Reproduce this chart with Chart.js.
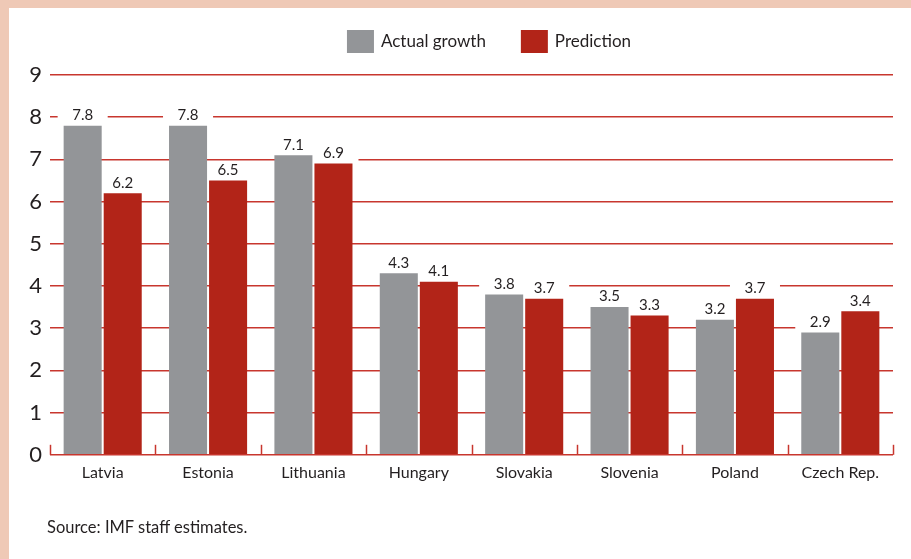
<!DOCTYPE html>
<html>
<head>
<meta charset="utf-8">
<script src="https://cdn.jsdelivr.net/npm/chart.js@4.4.0/dist/chart.umd.min.js"></script>
<style>
  html, body { margin: 0; padding: 0; background: #efc9b6; }
  #frame { position: absolute; left: 9px; top: 8px; width: 902px; height: 551px; background: #fff; }
  #growthChart { position: absolute; left: 0; top: 0; }
  #source { position: absolute; left: 47px; top: 517px; font-family: Lato, "Open Sans", sans-serif; font-size: 16.5px; color: #231f20; }
</style>
</head>
<body>
<div id="frame"></div>
<canvas id="growthChart" width="911" height="559"></canvas>
<div id="source">Source: IMF staff estimates.</div>
<script>
var countries = ['Latvia', 'Estonia', 'Lithuania', 'Hungary', 'Slovakia', 'Slovenia', 'Poland', 'Czech Rep.'];
var actualGrowth = [7.8, 7.8, 7.1, 4.3, 3.8, 3.5, 3.2, 2.9];
var prediction = [6.2, 6.5, 6.9, 4.1, 3.7, 3.3, 3.7, 3.4];
var yTicks = [0, 1, 2, 3, 4, 5, 6, 7, 8, 9];

var gris = '#939598';
var rojo = '#b22418';
var lineaRoja = '#c8362e';
var texto = '#231f20';
var fuente = 'Lato, "Open Sans", sans-serif';

// legend drawn by hand: boxes and names centred over the plot
let leyenda = {
    id: 'leyenda',
    afterDraw(chart) {
        let ctx = chart.ctx;
        ctx.save();
        ctx.font = '17px ' + fuente;
        ctx.textBaseline = 'middle';
        let items = chart.data.datasets.map(function (ds) {
            return { texto: ds.label, color: ds.backgroundColor, ancho: 27 + 7 + ctx.measureText(ds.label).width };
        });
        let total = items.reduce(function (s, it) { return s + it.ancho; }, 0) + 35 * (items.length - 1);
        let x = 489 - total / 2;
        items.forEach(function (it) {
            ctx.fillStyle = it.color;
            ctx.fillRect(x, 30, 27, 23);
            ctx.fillStyle = texto;
            ctx.fillText(it.texto, x + 34, 42);
            x += it.ancho + 35;
        });
        ctx.restore();
    }
};

// small upward ticks at the category boundaries on the baseline
let marcasEje = {
    id: 'marcasEje',
    afterDatasetsDraw(chart) {
        let ctx = chart.ctx;
        let x = chart.scales.x;
        let base = chart.scales.y.getPixelForValue(0);
        let paso = (x.right - x.left) / countries.length;
        ctx.save();
        ctx.strokeStyle = lineaRoja;
        ctx.lineWidth = 1.5;
        for (let i = 0; i <= countries.length; i++) {
            let px = Math.round(x.left + paso * i) + 0.5;
            ctx.beginPath();
            ctx.moveTo(px, base);
            ctx.lineTo(px, base - 10);
            ctx.stroke();
        }
        ctx.restore();
    }
};

// value labels: a white patch hides the grid line behind the number,
// painted before the bars so neighbouring bars stay on top
let etiquetasValor = {
    id: 'etiquetasValor',
    beforeDatasetsDraw(chart) {
        let ctx = chart.ctx;
        ctx.save();
        ctx.fillStyle = '#fff';
        chart.data.datasets.forEach(function (ds, i) {
            chart.getDatasetMeta(i).data.forEach(function (bar) {
                let ancho = bar.width + 12;
                ctx.fillRect(bar.x - ancho / 2, bar.y - 19, ancho, 19);
            });
        });
        ctx.restore();
    },
    afterDatasetsDraw(chart) {
        let ctx = chart.ctx;
        ctx.save();
        ctx.font = '15px ' + fuente;
        ctx.textAlign = 'center';
        ctx.textBaseline = 'bottom';
        ctx.fillStyle = texto;
        chart.data.datasets.forEach(function (ds, i) {
            chart.getDatasetMeta(i).data.forEach(function (bar, j) {
                ctx.fillText(ds.data[j].toFixed(1), bar.x, bar.y - 3);
            });
        });
        ctx.restore();
    }
};

function crearGrafico() {
    var ctx = document.getElementById('growthChart');
    new Chart(ctx, {
        type: 'bar',
        data: {
            labels: countries,
            datasets: [{
                label: 'Actual growth',
                data: actualGrowth,
                backgroundColor: gris,
                categoryPercentage: 0.76,
                barPercentage: 0.95
            }, {
                label: 'Prediction',
                data: prediction,
                backgroundColor: rojo,
                categoryPercentage: 0.76,
                barPercentage: 0.95
            }]
        },
        options: {
            responsive: false,
            animation: false,
            layout: { padding: { left: 9, right: 18, top: 75, bottom: 77 } },
            plugins: {
                legend: { display: false },
                tooltip: { enabled: false }
            },
            scales: {
                x: {
                    grid: { display: false },
                    border: { display: false },
                    ticks: {
                        color: texto,
                        padding: 0,
                        font: { family: fuente, size: 16 }
                    }
                },
                y: {
                    min: 0,
                    max: 9,
                    afterBuildTicks: function (scale) {
                        scale.ticks = yTicks.map(function (v) { return { value: v }; });
                    },
                    afterFit: function (scale) { scale.width = 41; },
                    grid: {
                        color: lineaRoja,
                        lineWidth: 1.5,
                        drawTicks: false
                    },
                    border: { display: false },
                    ticks: {
                        color: texto,
                        padding: 8,
                        font: { family: fuente, size: 22 }
                    }
                }
            }
        },
        plugins: [etiquetasValor, marcasEje, leyenda]
    });
}

crearGrafico();
</script>
</body>
</html>
